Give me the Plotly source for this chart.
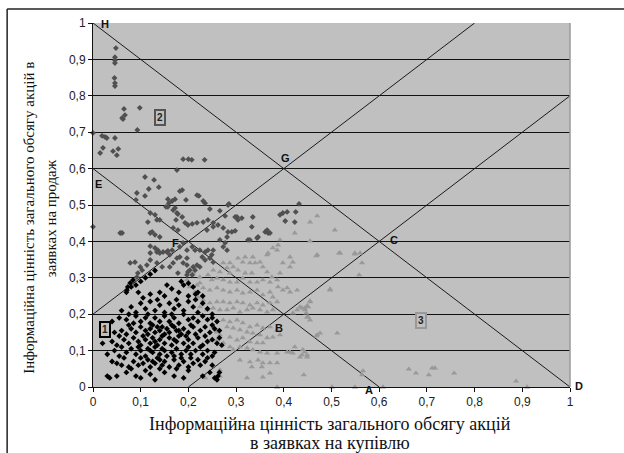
import plotly.graph_objects as go

# ---------------- data ----------------
# Series 1 (black diamonds)
series1_points = [
    (0.03,0.03),(0.035,0.025),(0.05,0.03),(0.07,0.04),(0.09,0.03),(0.10,0.025),(0.12,0.035),(0.13,0.02),
    (0.15,0.04),(0.17,0.03),(0.19,0.025),(0.2,0.045),(0.23,0.03),(0.245,0.04),(0.26,0.02),(0.262,0.03),
    (0.265,0.04),(0.255,0.025),(0.11,0.045),(0.08,0.05),(0.14,0.05),(0.175,0.05),
    (0.04,0.07),(0.05,0.065),(0.06,0.06),(0.075,0.055),(0.085,0.07),(0.095,0.06),(0.105,0.065),(0.115,0.075),
    (0.12,0.055),(0.13,0.065),(0.135,0.08),(0.145,0.06),(0.15,0.07),(0.16,0.055),(0.17,0.075),(0.18,0.06),
    (0.19,0.07),(0.2,0.055),(0.21,0.065),(0.22,0.075),(0.225,0.06),(0.235,0.07),(0.24,0.08),(0.25,0.06),
    (0.1,0.08),(0.065,0.08),(0.125,0.07),(0.14,0.075),(0.185,0.08),(0.205,0.08),
    (0.03,0.09),(0.045,0.1),(0.055,0.085),(0.07,0.095),(0.08,0.105),(0.09,0.09),(0.1,0.1),(0.11,0.085),
    (0.115,0.105),(0.125,0.095),(0.13,0.11),(0.14,0.09),(0.15,0.1),(0.155,0.085),(0.165,0.095),(0.175,0.105),
    (0.185,0.09),(0.195,0.1),(0.205,0.09),(0.215,0.1),(0.225,0.11),(0.23,0.09),(0.24,0.1),(0.25,0.085),
    (0.255,0.095),(0.06,0.11),(0.095,0.11),(0.145,0.105),(0.2,0.11),(0.17,0.085),(0.12,0.1),
    (0.02,0.12),(0.04,0.125),(0.05,0.115),(0.065,0.13),(0.075,0.12),(0.085,0.135),(0.095,0.125),(0.1,0.115),
    (0.11,0.13),(0.12,0.12),(0.125,0.135),(0.135,0.115),(0.14,0.13),(0.15,0.12),(0.16,0.135),(0.165,0.115),
    (0.175,0.125),(0.18,0.14),(0.19,0.12),(0.2,0.13),(0.21,0.12),(0.22,0.135),(0.23,0.115),(0.24,0.125),
    (0.25,0.13),(0.26,0.12),(0.27,0.115),(0.055,0.14),(0.105,0.14),(0.145,0.14),(0.195,0.14),(0.235,0.14),
    (0.265,0.135),(0.13,0.125),(0.17,0.13),
    (0.03,0.16),(0.045,0.15),(0.06,0.155),(0.07,0.145),(0.08,0.16),(0.09,0.15),(0.1,0.165),(0.11,0.155),
    (0.115,0.145),(0.12,0.16),(0.13,0.15),(0.135,0.165),(0.14,0.155),(0.15,0.145),(0.155,0.16),(0.16,0.15),
    (0.17,0.165),(0.175,0.155),(0.185,0.145),(0.19,0.16),(0.2,0.15),(0.21,0.165),(0.215,0.145),(0.225,0.155),
    (0.235,0.165),(0.245,0.15),(0.255,0.16),(0.265,0.155),(0.075,0.17),(0.125,0.17),(0.165,0.17),(0.205,0.17),
    (0.25,0.17),(0.145,0.165),(0.18,0.155),
    (0.04,0.18),(0.055,0.19),(0.07,0.185),(0.085,0.175),(0.09,0.195),(0.1,0.18),(0.11,0.19),(0.12,0.175),
    (0.13,0.19),(0.14,0.18),(0.15,0.195),(0.16,0.18),(0.17,0.19),(0.18,0.175),(0.19,0.2),(0.2,0.185),
    (0.21,0.19),(0.22,0.18),(0.23,0.195),(0.24,0.185),(0.25,0.19),(0.26,0.18),(0.115,0.2),(0.165,0.2),(0.075,0.2),
    (0.06,0.21),(0.08,0.22),(0.09,0.205),(0.1,0.23),(0.11,0.215),(0.12,0.235),(0.13,0.21),(0.14,0.225),
    (0.15,0.205),(0.16,0.23),(0.17,0.215),(0.18,0.225),(0.19,0.21),(0.2,0.235),(0.21,0.22),(0.22,0.205),
    (0.23,0.23),(0.24,0.215),(0.25,0.2),(0.135,0.24),(0.175,0.24),(0.215,0.24),(0.105,0.245),
    (0.07,0.26),(0.08,0.275),(0.09,0.28),(0.1,0.29),(0.11,0.3),(0.12,0.31),(0.13,0.32),(0.095,0.26),
    (0.12,0.255),(0.14,0.26),(0.15,0.25),(0.165,0.27),(0.18,0.26),(0.19,0.28),(0.2,0.25),(0.21,0.275),
    (0.22,0.26),(0.23,0.25),(0.185,0.29),(0.2,0.285),(0.155,0.28),(0.215,0.255),
    (0.084,0.294),(0.078,0.286),(0.073,0.275),(0.071,0.266),
]

# Series 2 (dark grey diamonds)
series2_points = [
    (0.048,0.931),(0.046,0.906),(0.046,0.898),(0.046,0.89),(0.045,0.849),(0.046,0.835),(0.046,0.827),
    (0.065,0.764),(0.067,0.747),(0.061,0.739),(0.063,0.736),(0.098,0.767),(0.093,0.706),(0.0,0.698),
    (0.019,0.69),(0.025,0.687),(0.029,0.684),(0.046,0.684),(0.015,0.643),(0.021,0.657),(0.042,0.648),
    (0.053,0.654),(0.05,0.637),(0.189,0.626),(0.2,0.626),(0.207,0.624),(0.234,0.624),(0.176,0.596),
    (0.109,0.577),(0.128,0.569),(0.138,0.549),(0.117,0.544),(0.092,0.533),(0.109,0.525),(0.09,0.514),
    (0.182,0.538),(0.187,0.541),(0.157,0.516),(0.166,0.511),(0.172,0.516),(0.195,0.514),(0.218,0.527),
    (0.222,0.525),(0.231,0.511),(0.235,0.505),(0.285,0.503),(0.245,0.489),(0.266,0.484),(0.277,0.47),
    (0.302,0.467),(0.335,0.467),(0.392,0.473),(0.398,0.478),(0.407,0.481),(0.403,0.456),(0.425,0.481),
    (0.423,0.453),(0.432,0.503),(0.0,0.44),(0.12,0.478),(0.13,0.473),(0.134,0.459),(0.115,0.453),
    (0.153,0.495),(0.159,0.505),(0.168,0.486),(0.176,0.478),(0.174,0.459),(0.187,0.467),(0.193,0.451),
    (0.199,0.445),(0.208,0.448),(0.218,0.451),(0.231,0.453),(0.241,0.459),(0.252,0.451),
    (0.157,0.495),(0.172,0.492),(0.178,0.475),(0.14,0.459),(0.168,0.437),(0.178,0.431),(0.124,0.426),
    (0.061,0.423),(0.239,0.431),(0.252,0.44),(0.262,0.445),(0.273,0.437),(0.283,0.426),(0.291,0.426),
    (0.298,0.429),(0.283,0.5),(0.298,0.467),(0.304,0.459),(0.312,0.464),(0.333,0.44),(0.325,0.404),
    (0.344,0.409),(0.361,0.426),(0.367,0.423),(0.281,0.412),(0.277,0.396),(0.273,0.385),(0.281,0.376),
    (0.12,0.387),(0.13,0.382),(0.136,0.376),(0.147,0.371),(0.157,0.374),(0.166,0.376),(0.182,0.357),
    (0.197,0.354),(0.224,0.376),(0.235,0.371),(0.241,0.376),(0.249,0.363),(0.182,0.385),(0.189,0.396),
    (0.197,0.376),(0.208,0.385),(0.214,0.376),(0.229,0.357),(0.235,0.349),(0.245,0.354),(0.252,0.376),
    (0.266,0.404),(0.189,0.341),(0.197,0.335),(0.21,0.33),(0.218,0.335),(0.214,0.321),(0.199,0.316),
    (0.208,0.308),(0.252,0.343),(0.346,0.412),(0.365,0.431),(0.371,0.423),(0.329,0.404),
    (0.057,0.423),(0.12,0.423),(0.13,0.418),(0.14,0.412),(0.078,0.341),(0.088,0.343),(0.099,0.33),
    (0.103,0.321),(0.094,0.313),(0.092,0.302),(0.12,0.368),(0.134,0.371),(0.14,0.368),(0.155,0.371),
    (0.161,0.363),(0.176,0.354),(0.168,0.341),(0.161,0.33),(0.145,0.33),(0.134,0.341),(0.12,0.349),
    (0.113,0.335),(0.203,0.321),(0.224,0.33),(0.178,0.313),(0.197,0.308),
]

# Series 3 (light grey triangles)
series3_points = [
    (0.423,0.423),(0.507,0.431),(0.455,0.453),(0.392,0.404),(0.388,0.39),(0.377,0.382),(0.367,0.368),
    (0.365,0.363),(0.386,0.376),(0.47,0.363),(0.518,0.368),(0.549,0.368),(0.335,0.357),(0.319,0.357),
    (0.304,0.354),(0.314,0.343),(0.329,0.341),(0.34,0.341),(0.35,0.343),(0.356,0.33),(0.365,0.316),
    (0.375,0.302),(0.392,0.313),(0.398,0.341),(0.413,0.357),(0.413,0.33),(0.419,0.343),
    (0.287,0.341),(0.294,0.33),(0.281,0.327),(0.273,0.341),(0.304,0.321),(0.319,0.313),(0.333,0.313),
    (0.287,0.313),(0.266,0.316),(0.252,0.321),(0.241,0.308),(0.249,0.294),(0.26,0.299),(0.273,0.294),
    (0.287,0.288),(0.302,0.288),(0.314,0.299),(0.329,0.288),(0.344,0.288),(0.356,0.294),(0.371,0.288),
    (0.386,0.294),(0.388,0.275),(0.398,0.266),(0.407,0.272),(0.413,0.261),(0.428,0.266),(0.497,0.266),
    (0.455,0.234),(0.451,0.22),(0.444,0.212),(0.434,0.22),(0.428,0.212),(0.419,0.203),(0.449,0.192),
    (0.455,0.184),(0.47,0.143),(0.476,0.148),(0.512,0.148),
    (0.224,0.286),(0.218,0.28),(0.231,0.272),(0.245,0.266),(0.26,0.272),(0.273,0.266),(0.287,0.261),
    (0.302,0.266),(0.314,0.258),(0.329,0.261),(0.344,0.266),(0.356,0.253),(0.371,0.261),(0.377,0.247),
    (0.386,0.234),(0.371,0.231),(0.356,0.225),(0.344,0.231),(0.329,0.225),(0.314,0.231),(0.302,0.234),
    (0.287,0.231),(0.273,0.234),(0.26,0.234),(0.245,0.231),(0.231,0.239),(0.22,0.247),(0.224,0.22),
    (0.239,0.212),(0.252,0.217),(0.266,0.212),(0.281,0.212),(0.294,0.217),(0.308,0.206),(0.323,0.212),
    (0.335,0.217),(0.35,0.212),(0.365,0.206),(0.377,0.212),
    (0.273,0.184),(0.287,0.179),(0.302,0.184),(0.314,0.176),(0.329,0.165),(0.344,0.17),(0.356,0.162),
    (0.371,0.165),(0.386,0.157),(0.392,0.143),(0.377,0.137),(0.365,0.135),(0.35,0.143),(0.335,0.148),
    (0.323,0.151),(0.308,0.157),(0.294,0.162),(0.281,0.165),(0.287,0.137),(0.302,0.129),(0.314,0.135),
    (0.329,0.124),(0.344,0.121),(0.356,0.121),(0.308,0.11),(0.323,0.107),(0.335,0.102),(0.35,0.096),
    (0.365,0.093),(0.386,0.093),(0.407,0.096),(0.419,0.093),(0.434,0.082),(0.449,0.082),(0.308,0.074),
    (0.329,0.069),(0.346,0.074),(0.356,0.066),(0.371,0.066),(0.386,0.066),(0.333,0.055),(0.354,0.055),
    (0.371,0.038),(0.323,0.025),(0.356,0.027),(0.413,0.096),(0.423,0.11),(0.444,0.096),
    (0.252,0.165),(0.26,0.151),(0.266,0.143),(0.26,0.129),(0.273,0.121),(0.287,0.11),(0.294,0.102),
    (0.21,0.313),(0.224,0.302),(0.197,0.294),(0.203,0.275),(0.214,0.261),
    (0.47,0.47),(0.455,0.401),(0.468,0.36),(0.516,0.368),(0.549,0.365),(0.56,0.368),(0.564,0.341),
    (0.558,0.308),(0.497,0.269),(0.455,0.236),(0.449,0.223),(0.444,0.217),(0.447,0.203),(0.451,0.192),
    (0.438,0.217),(0.468,0.14),(0.44,0.102),(0.449,0.088),(0.438,0.088),(0.566,0.044),(0.564,0.033),
    (0.662,0.049),(0.677,0.038),(0.704,0.033),(0.711,0.052),(0.717,0.052),(0.757,0.038),(0.887,0.016),
    (0.91,0.0),(0.501,0.0),(0.549,0.0),(0.608,0.0),(0.235,0.025),(0.266,0.047),(0.266,0.03),(0.442,0.033),
    (0.386,0.0),
]

# boundary lines (start point, end point)
boundary_lines = [((0, 1), (1, 0)), ((0, 0.6), (0.6, 0)), ((0, 0.2), (0.8, 1)), ((0.2, 0), (1, 0.8))]

# named points
point_names = ["H", "G", "E", "F", "C", "B", "A", "D"]
point_x = [0, 0.4, 0, 0.2, 0.6, 0.4, 0.6, 1]
point_y = [1, 0.6, 0.6, 0.4, 0.4, 0.2, 0, 0]
point_shift = [(12, -1), (2, 11), (5, -15), (-13, -2), (15, 1), (-5, -14), (-10, -3), (9, 1)]

# zone labels
zone_names = ["1", "2", "3"]
zone_x = [0.025, 0.14, 0.687]
zone_y = [0.157, 0.74, 0.184]
zone_colors = ["#000000", "#555555", "#999999"]

x_title_lines = ["Інформаційна цінність загального обсягу акцій", "в заявках на купівлю"]
y_title_lines = ["Інформаційна цінність загального обсягу акцій в", "заявках на продаж"]

# ---------------- figure ----------------
fig = go.Figure()

for (x0, y0), (x1, y1) in boundary_lines:
    fig.add_trace(go.Scatter(x=[x0, x1], y=[y0, y1], mode="lines",
                             line=dict(color="#1a1a1a", width=1), hoverinfo="skip",
                             showlegend=False, cliponaxis=False))

s3x, s3y = zip(*series3_points)
fig.add_trace(go.Scatter(x=s3x, y=s3y, mode="markers", showlegend=False, cliponaxis=False,
                         marker=dict(symbol="triangle-up", size=5.5, color="#999999")))
s2x, s2y = zip(*series2_points)
fig.add_trace(go.Scatter(x=s2x, y=s2y, mode="markers", showlegend=False, cliponaxis=False,
                         marker=dict(symbol="diamond", size=4.5, color="#505050")))
s1x, s1y = zip(*series1_points)
fig.add_trace(go.Scatter(x=s1x, y=s1y, mode="markers", showlegend=False, cliponaxis=False,
                         marker=dict(symbol="diamond", size=4.5, color="#000000")))

for name, px, py, (dx, dy) in zip(point_names, point_x, point_y, point_shift):
    fig.add_annotation(x=px, y=py, text="<b>%s</b>" % name, showarrow=False,
                       xshift=dx, yshift=dy,
                       font=dict(family="Liberation Sans, Arial", size=11, color="#111111"))

for name, zx, zy, col in zip(zone_names, zone_x, zone_y, zone_colors):
    fig.add_annotation(x=zx, y=zy, text="<b>%s</b>" % name, showarrow=False,
                       bordercolor=col, borderwidth=2, borderpad=1, bgcolor="#c0c0c0",
                       font=dict(family="Liberation Sans, Arial", size=10, color="#222222"))

# axis titles (one annotation per line)
title_font = dict(family="Liberation Serif, Times New Roman", size=18, color="#111111")
for txt, yp in zip(x_title_lines, [-0.103, -0.155]):
    fig.add_annotation(xref="paper", yref="paper", x=0.497, y=yp, yanchor="middle",
                       text=txt, showarrow=False, font=title_font)
ytitle_font = dict(family="Liberation Serif, Times New Roman", size=15, color="#111111")
for txt, xp in zip(y_title_lines, [-0.133, -0.088]):
    fig.add_annotation(xref="paper", yref="paper", x=xp, y=0.464, xanchor="center",
                       text=txt, showarrow=False, textangle=-90, font=ytitle_font)

# frame lines and right border of plot area
fig.add_shape(type="line", xref="paper", yref="paper", x0=-0.18, y0=1.0385, x1=1.2, y1=1.0385,
              line=dict(color="#222222", width=1.5))
fig.add_shape(type="line", xref="paper", yref="paper", x0=-0.18, y0=1.0385, x1=-0.18, y1=-0.2,
              line=dict(color="#222222", width=1.5))
fig.add_shape(type="line", xref="paper", yref="paper", x0=1, y0=0, x1=1, y1=1,
              line=dict(color="#9a9a9a", width=1.5))

axis_font = dict(family="Liberation Sans, Arial", size=12, color="#222222")
fig.update_layout(
    width=624, height=453,
    margin=dict(l=93, r=54, t=23, b=66),
    paper_bgcolor="white", plot_bgcolor="#c0c0c0",
    separators=",.",
    xaxis=dict(range=[0, 1], dtick=0.1, tick0=0, showgrid=False, zeroline=False,
               showline=True, linecolor="#111111", linewidth=1,
               ticks="outside", ticklen=4, tickcolor="#111111", tickfont=axis_font),
    yaxis=dict(range=[0, 1], dtick=0.1, tick0=0, showgrid=True, gridcolor="#111111", gridwidth=1,
               zeroline=False, showline=True, linecolor="#111111", linewidth=1,
               ticks="outside", ticklen=4, tickcolor="#111111", tickfont=axis_font),
)

fig.write_html("out.html")
